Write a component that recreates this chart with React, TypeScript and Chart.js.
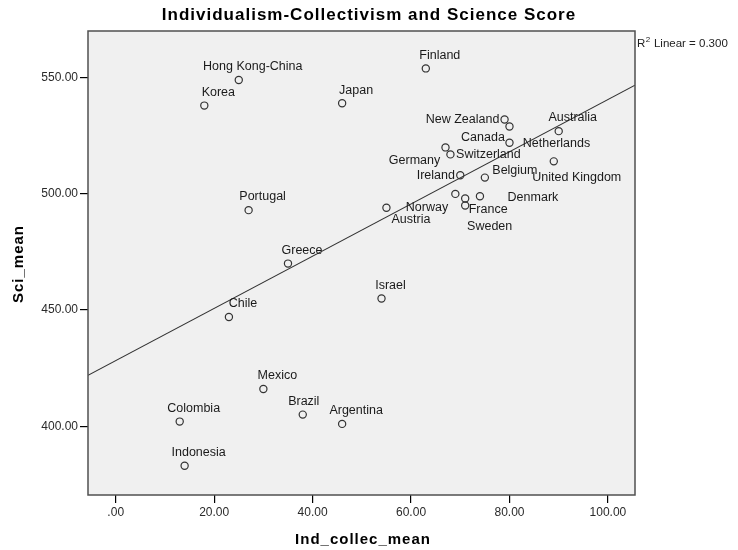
import React, { useEffect, useRef } from "react";
import { Chart, registerables } from "chart.js";

Chart.register(...registerables);

const countries = [
  "Hong Kong-China", "Korea", "Japan", "Finland", "New Zealand", "Canada", "Australia",
  "Netherlands", "Germany", "Switzerland", "United Kingdom", "Ireland", "Belgium",
  "Norway", "Denmark", "France", "Sweden", "Austria", "Portugal", "Greece", "Israel",
  "Chile", "Mexico", "Brazil", "Colombia", "Argentina", "Indonesia",
];
const indCollecMean = [25, 18, 46, 63, 79, 80, 90, 80, 67, 68, 89, 70, 75, 69, 74, 71, 71, 55, 27, 35, 54, 23, 30, 38, 13, 46, 14];
const sciMean = [549, 538, 539, 554, 532, 529, 527, 522, 520, 517, 514, 508, 507, 500, 499, 498, 495, 494, 493, 470, 455, 447, 416, 405, 402, 401, 383];

const xTicks = [0, 20, 40, 60, 80, 100];
const yTicks = [400, 450, 500, 550];
const xRange = [-5.63, 105.5];
const yRange = [370.4, 570.1];

const titleText = "Individualism-Collectivism and Science Score";
const xTitle = "Ind_collec_mean";
const yTitle = "Sci_mean";
const r2Text = "Linear = 0.300";

// label placement (pixel offset of label centre from its point)
const labelOffsets: Record<string, [number, number]> = {
  "Israel": [9, -12.5],
  "Brazil": [1, -12.6],
  "New Zealand": [-42, 0.5],
  "Canada": [-26.5, 11],
  "Netherlands": [47, 1],
  "Germany": [-31, 13],
  "Switzerland": [38, 0],
  "United Kingdom": [23, 16.3],
  "Ireland": [-24.5, 0.3],
  "Belgium": [30, -6.7],
  "Denmark": [53, 1.7],
  "Norway": [-28.4, 13.7],
  "Austria": [24.5, 12.2],
  "France": [23, 11.5],
  "Sweden": [24.5, 21],
};
const defaultOffset: [number, number] = [14, -13.2];

const FONT = "'Liberation Sans', Arial, sans-serif";

function fitLine(xs: number[], ys: number[]) {
  const n = xs.length;
  const mx = xs.reduce((a, b) => a + b, 0) / n;
  const my = ys.reduce((a, b) => a + b, 0) / n;
  let sxy = 0, sxx = 0;
  for (let i = 0; i < n; i++) {
    sxy += (xs[i] - mx) * (ys[i] - my);
    sxx += (xs[i] - mx) * (xs[i] - mx);
  }
  const b = sxy / sxx;
  return { a: my - b * mx, b };
}

export default function App() {
  const ref = useRef<HTMLCanvasElement>(null);

  useEffect(() => {
    const canvas = ref.current;
    if (!canvas) return;
    const { a, b } = fitLine(indCollecMean, sciMean);

    const decor = {
      id: "decor",
      beforeDraw(chart: any) {
        const { ctx, chartArea: ca } = chart;
        ctx.save();
        ctx.fillStyle = "#ffffff";
        ctx.fillRect(0, 0, chart.width, chart.height);
        ctx.fillStyle = "#f0f0f0";
        ctx.fillRect(ca.left, ca.top, ca.right - ca.left, ca.bottom - ca.top);
        ctx.restore();
      },
      afterDatasetsDraw(chart: any) {
        const { ctx } = chart;
        const meta = chart.getDatasetMeta(0);
        ctx.save();
        ctx.font = `12.5px ${FONT}`;
        ctx.fillStyle = "#1a1a1a";
        ctx.textAlign = "center";
        ctx.textBaseline = "middle";
        countries.forEach((c, i) => {
          const el = meta.data[i];
          const off = labelOffsets[c] || defaultOffset;
          ctx.fillText(c, el.x + off[0], el.y + off[1]);
        });
        ctx.restore();
      },
      afterDraw(chart: any) {
        const { ctx, chartArea: ca } = chart;
        ctx.save();
        // frame
        ctx.strokeStyle = "#505050";
        ctx.lineWidth = 1.5;
        ctx.strokeRect(ca.left, ca.top, ca.right - ca.left, ca.bottom - ca.top);
        // title
        ctx.fillStyle = "#000";
        ctx.textAlign = "center";
        ctx.textBaseline = "middle";
        ctx.font = `bold 17px ${FONT}`;
        (ctx as any).letterSpacing = "1px";
        ctx.fillText(titleText, 369, 15);
        ctx.font = `bold 15px ${FONT}`;
        ctx.fillText(xTitle, 363, 540);
        ctx.save();
        ctx.translate(19, 264);
        ctx.rotate(-Math.PI / 2);
        ctx.fillText(yTitle, 0, 0);
        ctx.restore();
        (ctx as any).letterSpacing = "0px";
        // R^2
        ctx.textAlign = "left";
        ctx.textBaseline = "alphabetic";
        ctx.fillStyle = "#222";
        ctx.font = `11.5px ${FONT}`;
        ctx.fillText("R", ca.right + 2, 47);
        const rw = ctx.measureText("R").width;
        ctx.font = `8px ${FONT}`;
        ctx.fillText("2", ca.right + 2 + rw + 0.5, 42);
        const sw = ctx.measureText("2").width;
        ctx.font = `11.5px ${FONT}`;
        ctx.fillText(" " + r2Text, ca.right + 2 + rw + sw + 1, 47);
        ctx.restore();
      },
    };

    const chart = new Chart(canvas, {
      type: "scatter",
      data: {
        datasets: [
          {
            label: "points",
            data: indCollecMean.map((x, i) => ({ x, y: sciMean[i] })),
            pointRadius: 3.6,
            pointHoverRadius: 3.6,
            pointBorderWidth: 1.2,
            borderColor: "#333",
            backgroundColor: "rgba(0,0,0,0)",
            order: 1,
          },
          {
            label: "fit",
            type: "line",
            data: [
              { x: xRange[0], y: a + b * xRange[0] },
              { x: xRange[1], y: a + b * xRange[1] },
            ],
            borderColor: "#333",
            borderWidth: 1.1,
            pointRadius: 0,
            showLine: true,
            fill: false,
            order: 2,
          } as any,
        ],
      },
      options: {
        responsive: false,
        animation: false,
        events: [],
        layout: { padding: { left: 0, right: 103, top: 31, bottom: 0 } },
        plugins: { legend: { display: false }, title: { display: false }, tooltip: { enabled: false } },
        scales: {
          x: {
            type: "linear",
            min: xRange[0],
            max: xRange[1],
            afterBuildTicks: (s: any) => { s.ticks = xTicks.map((v) => ({ value: v })); },
            afterFit: (s: any) => { s.height = 55; },
            ticks: {
              callback: (v: any) => (Number(v) === 0 ? ".00" : Number(v).toFixed(2)),
              font: { family: FONT, size: 12 },
              color: "#2a2a2a",
              padding: 2,
              maxRotation: 0,
              autoSkip: false,
            },
            grid: { display: true, drawOnChartArea: false, drawTicks: true, tickLength: 8, color: "#000", lineWidth: 1.2 },
            border: { display: false },
          },
          y: {
            type: "linear",
            min: yRange[0],
            max: yRange[1],
            afterBuildTicks: (s: any) => { s.ticks = yTicks.map((v) => ({ value: v })); },
            afterFit: (s: any) => { s.width = 88; },
            ticks: {
              callback: (v: any) => Number(v).toFixed(2),
              font: { family: FONT, size: 12 },
              color: "#2a2a2a",
              padding: 2,
              autoSkip: false,
            },
            grid: { display: true, drawOnChartArea: false, drawTicks: true, tickLength: 8, color: "#000", lineWidth: 1.2 },
            border: { display: false },
          },
        },
      },
      plugins: [decor],
    });
    return () => chart.destroy();
  }, []);

  return (
    <div style={{ position: "fixed", left: 0, top: 0, width: 738, height: 550, background: "#fff" }}>
      <canvas ref={ref} width={738} height={550} style={{ width: 738, height: 550, display: "block" }} />
    </div>
  );
}
